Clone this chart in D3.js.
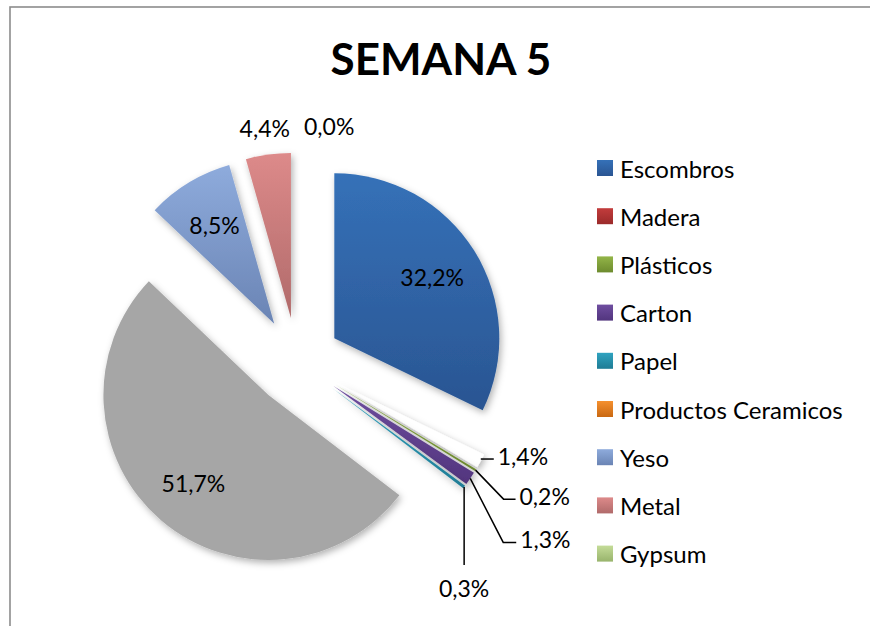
<!DOCTYPE html>
<html>
<head>
<meta charset="utf-8">
<script src="https://cdn.jsdelivr.net/npm/d3@7"></script>
<style>
  html, body { margin: 0; padding: 0; background: #fff; }
  svg { display: block; font-family: Lato, "Open Sans", sans-serif; }
</style>
</head>
<body>
<svg id="chart" width="870" height="626"></svg>
<script>
// Waste composition for week 5 (percent of total)
const chartTitle = "SEMANA 5";
const categories = ["Escombros", "Madera", "Plásticos", "Carton", "Papel",
                    "Productos Ceramicos", "Yeso", "Metal", "Gypsum"];
const shares = [32.2, 1.4, 0.2, 1.3, 0.3, 51.7, 8.5, 4.4, 0.0];

// Palette: legend swatches [top, bottom] gradient stops
const legendPalette = [
  ["#3571b8", "#2a5592"], ["#c23c3c", "#9a2a2a"], ["#93b548", "#6d8b2e"],
  ["#6f4ea0", "#52357e"], ["#2fa3c0", "#1f7c95"], ["#f5902f", "#c96812"],
  ["#8eabdc", "#6a84b4"], ["#dd8a8a", "#b06a6a"], ["#c4dc98", "#98b46c"]
];
// Slice fills (Madera is left white, Productos Ceramicos is grey)
const slicePalette = [
  ["#3571b8", "#2a5592"], ["#ffffff", "#ffffff"], ["#93b548", "#6d8b2e"],
  ["#6f4ea0", "#52357e"], ["#2fa3c0", "#1f7c95"], ["#a6a6a6", "#a6a6a6"],
  ["#8eabdc", "#6a84b4"], ["#dd8a8a", "#b06a6a"], ["#c4dc98", "#98b46c"]
];

const fmt = v => d3.format(".1f")(v).replace(".", ",") + "%";

const svg = d3.select("#chart");
const defs = svg.append("defs");

// soft outer shadow for the slices
const shadow = defs.append("filter").attr("id", "shadow")
  .attr("x", "-20%").attr("y", "-20%").attr("width", "140%").attr("height", "140%");
shadow.append("feDropShadow").attr("dx", 2).attr("dy", 3)
  .attr("stdDeviation", 3.5).attr("flood-color", "#000").attr("flood-opacity", 0.3);

function addGradient(id, stops) {
  const g = defs.append("linearGradient").attr("id", id)
    .attr("x1", 0).attr("y1", 0).attr("x2", 0).attr("y2", 1);
  g.append("stop").attr("offset", "0%").attr("stop-color", stops[0]);
  g.append("stop").attr("offset", "100%").attr("stop-color", stops[1]);
}
slicePalette.forEach((s, i) => addGradient("slice" + i, s));
legendPalette.forEach((s, i) => addGradient("leg" + i, s));

// chart frame
svg.append("rect").attr("x", 10).attr("y", 7).attr("width", 900).attr("height", 700)
  .attr("fill", "none").attr("stroke", "#8c8c8c").attr("stroke-width", 1.6);

// title
svg.append("text").attr("x", 441).attr("y", 75).attr("text-anchor", "middle")
  .attr("font-size", 44).attr("font-weight", 700).attr("fill", "#000").text(chartTitle);

// pie geometry
const cx = 297, cy = 361.5, R = 165, explode = 44;
const pie = d3.pie().sort(null).value(d => d).startAngle(0).endAngle(2 * Math.PI);
const arcs = pie(shares);
const arc = d3.arc().innerRadius(0).outerRadius(R);
const dir = a => [Math.sin(a), -Math.cos(a)];

const slices = arcs.map((a, i) => {
  const mid = (a.startAngle + a.endAngle) / 2;
  const [ux, uy] = dir(mid);
  return { a, i, mid, ux, uy, ox: cx + explode * ux, oy: cy + explode * uy };
});

const pieG = svg.append("g");
pieG.selectAll("path").data(slices).join("path")
  .attr("transform", d => `translate(${d.ox},${d.oy})`)
  .attr("d", d => arc(d.a))
  .attr("fill", d => `url(#slice${d.i})`)
  .attr("filter", "url(#shadow)");

// data labels
const labelG = svg.append("g").attr("font-size", 23).attr("fill", "#000");
const insideFrac = 0.7;
// leader-line callouts for the thin slices: elbow offset from slice rim, horizontal run
const callouts = {
  "Madera":    { elbow: [0, -2],   run: 13 },
  "Plásticos": { elbow: [28, 29],  run: 12 },
  "Carton":    { elbow: [33, 64],  run: 13 },
  "Papel":     { elbow: [0, 78],   run: 0, below: true }
};

slices.forEach(s => {
  const name = categories[s.i];
  const txt = fmt(shares[s.i]);
  const rimX = s.ox + R * s.ux, rimY = s.oy + R * s.uy;
  if (shares[s.i] >= 8) {
    labelG.append("text")
      .attr("x", s.ox + insideFrac * R * s.ux)
      .attr("y", s.oy + insideFrac * R * s.uy)
      .attr("text-anchor", "middle").attr("dominant-baseline", "central")
      .text(txt);
  } else if (callouts[name]) {
    const c = callouts[name];
    const ex = rimX + c.elbow[0], ey = rimY + c.elbow[1];
    const pts = [[rimX, c.elbow[0] === 0 && !c.below ? ey : rimY], [ex, ey], [ex + c.run, ey]];
    labelG.append("path")
      .attr("d", d3.line()(pts)).attr("fill", "none")
      .attr("stroke", "#000").attr("stroke-width", 1.5);
    if (c.below) {
      labelG.append("text").attr("x", ex).attr("y", ey + 23)
        .attr("text-anchor", "middle").attr("dominant-baseline", "central").text(txt);
    } else {
      labelG.append("text").attr("x", ex + c.run + 4).attr("y", ey - 3)
        .attr("text-anchor", "start").attr("dominant-baseline", "central").text(txt);
    }
  } else {
    // outside labels above the rim; an empty slice's label sits to the right of its edge
    const lx = s.ox + (R + 25) * s.ux, ly = s.oy + (R + 25) * s.uy;
    const empty = shares[s.i] === 0;
    labelG.append("text")
      .attr("x", empty ? lx + 7 : lx).attr("y", ly - 2)
      .attr("text-anchor", empty ? "start" : "middle")
      .attr("dominant-baseline", "central").text(txt);
  }
});

// legend
const legend = svg.append("g").attr("transform", "translate(597,168)");
const row = legend.selectAll("g").data(categories).join("g")
  .attr("transform", (d, i) => `translate(0,${i * 48.2})`);
row.append("rect").attr("x", 0).attr("y", -8).attr("width", 16).attr("height", 16)
  .attr("fill", (d, i) => `url(#leg${i})`);
row.append("text").attr("x", 23).attr("y", 0).attr("dominant-baseline", "central")
  .attr("font-size", 24).attr("fill", "#000").text(d => d);
</script>
</body>
</html>
